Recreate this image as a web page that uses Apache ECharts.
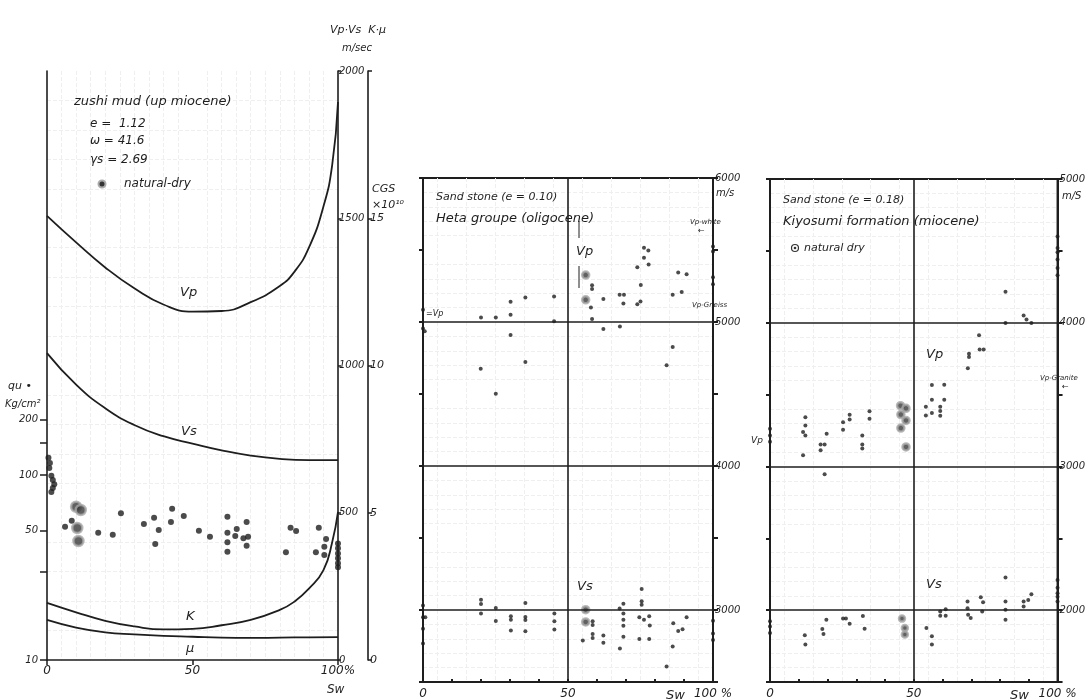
<!DOCTYPE html>
<html><head><meta charset="utf-8">
<script src="https://cdn.jsdelivr.net/npm/echarts@6/dist/echarts.min.js"></script>
<style>html,body{margin:0;padding:0;background:#fff}#c{width:1088px;height:700px}</style>
</head><body><div id="c"></div>
<script>
// ---------- Panel 1: Zushi mud ----------
const vpSw  = [0, 10, 20, 30, 40, 50, 60, 70, 80, 85, 90, 95, 98, 100];
const vpVal = [1508, 1418, 1333, 1262, 1207, 1183, 1185, 1215, 1270, 1318, 1400, 1540, 1680, 1895];
const vsSw  = [0, 10, 20, 30, 40, 50, 60, 70, 80, 90, 100];
const vsVal = [1042, 935, 855, 798, 760, 735, 712, 694, 683, 679, 679];
const kSw   = [0, 10, 20, 30, 40, 50, 60, 70, 80, 85, 90, 95, 98, 100];
const kVal  = [1.94, 1.62, 1.33, 1.14, 1.04, 1.06, 1.18, 1.36, 1.70, 1.98, 2.42, 3.05, 4.0, 5.03];
const muSw  = [0, 10, 20, 30, 40, 50, 60, 70, 80, 90, 100];
const muVal = [1.36, 1.10, 0.94, 0.87, 0.82, 0.79, 0.76, 0.75, 0.76, 0.77, 0.78];
const quPts = [[0.5,124],[1,116],[0.8,109],[1.5,99],[2,94],[2.5,89],[2,85],[1.5,81],
  [6.2,52.6],[8.5,56.6],[17.6,48.8],[22.6,47.6],[25.4,62.1],[33.3,54.3],[36.8,58.8],[37.2,42.4],
  [38.4,50.4],[43.0,65.8],[42.6,55.7],[47.0,60.0],[52.2,50.0],[56.0,46.4],[62.0,59.5],[62.0,48.8],
  [62.0,43.3],[62.0,38.5],[65.2,51.1],[64.7,46.8],[67.5,45.5],[68.6,55.7],[69.1,46.4],[68.6,41.5],
  [82.1,38.2],[83.7,51.9],[85.6,49.8],[92.4,38.2],[93.4,51.9],[95.9,45.1],[95.3,41.0],[95.3,37.0],
  [100,42.7],[100,40.2],[100,37.7],[100,35.5],[100,33.3],[100,31.7]];
const quDry = [[10,67.4],[11.6,64.7],[10.4,51.7],[10.8,44.0]];
const quTicks = [10, 30, 50, 100, 150, 200];
const quLabels = [10, 50, 100, 200];

// ---------- Panel 2: Heta groupe ----------
const hetaVp = [[0,5085],[0,4955],[0.6,4935],[20,5032],[25.1,5032],[30.2,5140],[30.2,5050],[30.2,4910],
  [35.3,5170],[35.3,4722],[19.9,4676],[25.1,4501],[45.2,5177],[45.2,5005],[58.3,5255],[58.3,5230],
  [57.9,5101],[58.3,5021],[62.2,5159],[62.2,4952],[67.8,5189],[69.3,5189],[69.1,5129],[67.9,4968],
  [73.9,5381],[75.1,5257],[73.9,5124],[75,5143],[76.2,5515],[77.7,5497],[76.2,5446],[77.8,5400],
  [86.1,5189],[88.0,5343],[89.2,5209],[90.9,5331],[86.1,4826],[84.0,4699],
  [100,5524],[100,5490],[100,5310],[100,5262]];
const hetaVpDry = [[56.1,5326],[56.1,5154]];
const hetaVs = [[0,3032],[0,2950],[0.8,2950],[0,2869],[0,2768],[20,3071],[20,3041],[20,2975],
  [25.1,3014],[25.1,2924],[30.3,2956],[30.3,2933],[30.3,2857],[35.3,3048],[35.3,2952],[35.3,2930],
  [35.3,2853],[45.3,2975],[45.3,2922],[45.3,2864],[58.5,2922],[58.5,2895],[58.5,2834],[58.5,2806],
  [55.1,2788],[62.2,2823],[62.2,2772],[69.1,3044],[67.8,3011],[69.1,2975],[69.1,2933],[69.1,2891],
  [69.1,2814],[67.9,2733],[75.4,3145],[75.4,3060],[75.4,3037],[74.6,2950],[76.2,2933],[74.6,2798],
  [78.0,2956],[78.2,2892],[78.0,2798],[86.3,2908],[88.0,2855],[89.5,2866],[90.9,2950],[86.1,2747],
  [84.0,2607],[100,2926],[100,2837],[100,2791]];
const hetaVsDry = [[56.1,3002],[56.1,2917]];

// ---------- Panel 3: Kiyosumi formation ----------
const kiyoVp = [[0,3262],[0,3172],[0,3216],[11.5,3078],[12.3,3343],[12.3,3285],[12.3,3216],[11.5,3239],
  [17.6,3152],[19.0,3152],[17.6,3113],[19.7,3228],[19.0,2945],[25.4,3308],[25.4,3255],[27.7,3359],
  [27.7,3327],[32.1,3216],[32.1,3152],[32.1,3124],[34.6,3384],[34.6,3332],[54.2,3416],[54.2,3354],
  [56.3,3372],[56.3,3566],[56.3,3464],[59.2,3416],[59.2,3386],[59.2,3352],[60.6,3568],[60.6,3464],
  [68.8,3683],[69.2,3784],[69.2,3761],[72.7,3912],[72.9,3814],[74.3,3814],[81.9,4216],[81.9,3998],
  [88.2,4050],[89.2,4023],[90.9,3998],[100,4600],[100,4520],[100,4490],[100,4440],[100,4380],[100,4330]];
const kiyoVpDry = [[45.4,3423],[47.3,3404],[45.5,3361],[47.3,3320],[45.5,3267],[47.3,3136]];
const kiyoVs = [[0,1922],[0,1887],[0,1841],[12.1,1826],[12.3,1761],[18.2,1869],[18.6,1834],[19.6,1933],
  [25.4,1941],[26.4,1941],[27.7,1906],[32.3,1959],[32.9,1871],[54.4,1876],[56.3,1818],[56.3,1761],
  [59.2,1991],[61.1,2007],[61.1,1961],[59.2,1961],[68.7,2060],[68.7,2014],[68.9,1968],[69.8,1945],
  [73.3,2090],[74.1,2055],[73.8,1990],[81.9,2228],[81.9,2060],[81.9,2002],[81.9,1933],[88.2,2060],
  [88.2,2025],[89.8,2071],[90.9,2110],[100,2209],[100,2156],[100,2117],[100,2094],[100,2060]];
const kiyoVsDry = [[45.9,1941],[46.9,1876],[46.9,1830]];

// ---------- build ----------
const INK = '#1e1e1e';
const FONT = 'DejaVu Sans';
const zip = (a, b) => a.map((v, i) => [v, b[i]]);
const lg = pts => pts.map(p => [p[0], Math.log10(p[1])]);

function txt(x, y, s, size, extra) {
  return Object.assign({type: 'text', x: x, y: y, z: 100,
    style: Object.assign({text: s, fontSize: size || 12, fontFamily: FONT, fontStyle: 'italic',
      fill: INK, verticalAlign: 'middle'}, extra || {})});
}
function ln(x1, y1, x2, y2, w) {
  return {type: 'line', z: 100, shape: {x1, y1, x2, y2}, style: {stroke: INK, lineWidth: w || 1}};
}

const faint = {show: true, lineStyle: {color: '#efefef', type: 'dashed', width: 1}};
const axisLineBlack = w => ({show: true, onZero: false, lineStyle: {color: INK, width: w || 1.5}});
const lblStyle = {color: INK, fontFamily: FONT, fontStyle: 'italic', fontSize: 11};

function curve(name, sw, val, yi) {
  return {name, type: 'line', xAxisIndex: 0, yAxisIndex: yi, data: zip(sw, val), smooth: 0.5,
    showSymbol: false, symbol: 'none', clip: false,
    lineStyle: {color: INK, width: 1.8}, silent: true};
}
function dots(data, xi, yi, size) {
  return {type: 'scatter', xAxisIndex: xi, yAxisIndex: yi, data, symbolSize: size, clip: false,
    itemStyle: {color: INK}, silent: true};
}
function dry(data, xi, yi, size) {
  return {type: 'scatter', xAxisIndex: xi, yAxisIndex: yi, data, symbolSize: size, clip: false,
    itemStyle: {color: '#3a3a3a', borderColor: '#a8a8a8', borderWidth: 2.5}, silent: true};
}
function frameLines(yVals) {
  return {type: 'line', data: [], silent: true,
    markLine: {symbol: 'none', silent: true, label: {show: false},
      lineStyle: {color: INK, width: 1.6, type: 'solid'},
      data: [{xAxis: 50}].concat(yVals.map(v => ({yAxis: v})))}};
}
function panelX(gi) {
  return {gridIndex: gi, type: 'value', min: 0, max: 100, interval: 10,
    axisLine: axisLineBlack(2), splitLine: {show: false},
    minorTick: {show: false, splitNumber: 2}, minorSplitLine: faint,
    axisTick: {show: true, inside: true, length: 3, lineStyle: {color: INK, width: 2}},
    axisLabel: Object.assign({}, lblStyle, {fontSize: 12, margin: 6,
      formatter: v => v === 0 ? '0' : v === 50 ? '50' : v === 100 ? '100 %' : ''})};
}
function panelYRight(gi, min, max) {
  return {gridIndex: gi, type: 'value', position: 'right', min, max, interval: 500,
    axisLine: axisLineBlack(2), splitLine: {show: false},
    minorTick: {show: false, splitNumber: 5}, minorSplitLine: faint,
    axisTick: {show: true, length: 5, lineStyle: {color: INK, width: 2}},
    axisLabel: Object.assign({}, lblStyle, {fontSize: 10, margin: 2,
      formatter: v => v % 1000 === 0 ? String(v) : ''})};
}
function panelYLeft(gi, min, max) {
  return {gridIndex: gi, type: 'value', position: 'left', min, max, interval: 500,
    axisLine: axisLineBlack(2), splitLine: {show: false},
    axisTick: {show: true, length: 4, lineStyle: {color: INK, width: 2}},
    axisLabel: {show: false}};
}

const option = {
  backgroundColor: '#ffffff',
  animation: false,
  grid: [
    {left: 47, top: 71, width: 291, height: 589, show: false},
    {left: 423, top: 178, width: 290, height: 505, show: true, borderColor: INK, borderWidth: 2, backgroundColor: 'transparent'},
    {left: 770, top: 179, width: 289, height: 504, show: true, borderColor: INK, borderWidth: 2, backgroundColor: 'transparent'}
  ],
  xAxis: [
    {gridIndex: 0, type: 'value', min: 0, max: 100, interval: 50,
      axisLine: axisLineBlack(1.6), splitLine: {show: false},
      minorTick: {show: false, splitNumber: 10}, minorSplitLine: faint,
      axisTick: {show: true, length: 5, lineStyle: {color: INK, width: 1.5}},
      axisLabel: Object.assign({}, lblStyle, {fontSize: 12, margin: 5,
        formatter: v => v === 100 ? '100%' : String(v)})},
    panelX(1),
    panelX(2)
  ],
  yAxis: [
    {gridIndex: 0, type: 'value', position: 'left', min: 1, max: 4.184,
      axisLine: axisLineBlack(1.6), splitLine: {show: false},
      axisTick: {show: true, length: 7, customValues: quTicks.map(v => Math.log10(v)), lineStyle: {color: INK, width: 1.5}},
      axisLabel: Object.assign({}, lblStyle, {fontSize: 10, margin: 9,
        customValues: quLabels.map(v => Math.log10(v)),
        formatter: v => String(Math.round(Math.pow(10, v)))})},
    {gridIndex: 0, type: 'value', position: 'right', min: 0, max: 2000, interval: 500,
      axisLine: axisLineBlack(1.6), splitLine: {show: false},
      minorTick: {show: false, splitNumber: 5}, minorSplitLine: faint,
      axisTick: {show: true, length: 3, lineStyle: {color: INK, width: 1.5}},
      axisLabel: Object.assign({}, lblStyle, {fontSize: 10, margin: 1, formatter: v => String(v)})},
    {gridIndex: 0, type: 'value', position: 'right', offset: 30, min: 0, max: 20, interval: 5,
      axisLine: axisLineBlack(1.6), splitLine: {show: false},
      axisTick: {show: true, length: 4, lineStyle: {color: INK, width: 1.5}},
      axisLabel: Object.assign({}, lblStyle, {fontSize: 11, margin: 2,
        formatter: v => v === 20 ? '' : String(v)})},
    panelYRight(1, 2500, 6000),
    panelYLeft(1, 2500, 6000),
    panelYRight(2, 1500, 5000),
    panelYLeft(2, 1500, 5000)
  ],
  series: [
    curve('Vp', vpSw, vpVal, 1),
    curve('Vs', vsSw, vsVal, 1),
    curve('K', kSw, kVal, 2),
    curve('μ', muSw, muVal, 2),
    dots(lg(quPts), 0, 0, 6),
    dry(lg(quDry), 0, 0, 10),
    Object.assign(frameLines([3000, 4000, 5000]), {xAxisIndex: 1, yAxisIndex: 3}),
    dots(hetaVp, 1, 3, 4),
    dry(hetaVpDry, 1, 3, 7),
    dots(hetaVs, 1, 3, 4),
    dry(hetaVsDry, 1, 3, 7),
    Object.assign(frameLines([2000, 3000, 4000]), {xAxisIndex: 2, yAxisIndex: 5}),
    dots(kiyoVp, 2, 5, 4),
    dry(kiyoVpDry, 2, 5, 7),
    dots(kiyoVs, 2, 5, 4),
    dry(kiyoVsDry, 2, 5, 6)
  ],
  graphic: [
    // panel 1
    txt(74, 102, 'zushi mud (up miocene)', 13),
    txt(90, 124, 'e =  1.12', 12),
    txt(90, 141, 'ω = 41.6', 12),
    txt(90, 160, 'γs = 2.69', 12),
    {type: 'circle', z: 100, shape: {cx: 102, cy: 184, r: 3.5}, style: {fill: '#333', stroke: '#aaa', lineWidth: 2}},
    txt(124, 184, 'natural-dry', 12),
    txt(180, 293, 'Vp', 13),
    txt(181, 432, 'Vs', 13),
    txt(186, 617, 'K', 13),
    txt(186, 649, 'μ', 13),
    txt(8, 386, 'qu •', 11),
    txt(5, 404, 'Kg/cm²', 10),
    txt(330, 30, 'Vp·Vs  K·μ', 11),
    txt(342, 48, 'm/sec', 10),
    txt(372, 189, 'CGS', 11),
    txt(372, 205, '×10¹⁰', 11),
    txt(327, 690, 'Sw', 12),
    // panel 2
    txt(436, 197, 'Sand stone (e = 0.10)', 11),
    txt(436, 219, 'Heta groupe (oligocene)', 13),
    txt(576, 252, 'Vp', 13),
    ln(579, 221, 579, 238, 1), ln(579, 266, 579, 288, 1),
    txt(577, 587, 'Vs', 13),
    txt(690, 222, 'Vp-white', 7),
    txt(698, 231, '←', 8),
    txt(692, 305, 'Vp-Gneiss', 7),
    txt(426, 314, '=Vp', 8),
    txt(716, 193, 'm/s', 10),
    txt(666, 696, 'Sw', 13),
    // panel 3
    txt(783, 200, 'Sand stone (e = 0.18)', 11),
    txt(783, 222, 'Kiyosumi formation (miocene)', 13),
    {type: 'circle', z: 100, shape: {cx: 795, cy: 248, r: 3.5}, style: {fill: '#fff', stroke: '#333', lineWidth: 1.2}},
    {type: 'circle', z: 100, shape: {cx: 795, cy: 248, r: 1.3}, style: {fill: '#333'}},
    txt(804, 248, 'natural dry', 11),
    txt(926, 355, 'Vp', 13),
    txt(926, 585, 'Vs', 13),
    txt(1040, 378, 'Vp-Granite', 7),
    txt(1062, 387, '←', 8),
    txt(751, 441, 'Vp', 9, {textDecoration: 'overline'}),
    txt(1062, 196, 'm/S', 10),
    txt(1010, 696, 'Sw', 13)
  ]
};

const chart = echarts.init(document.getElementById('c'));
chart.setOption(option);
</script></body></html>
